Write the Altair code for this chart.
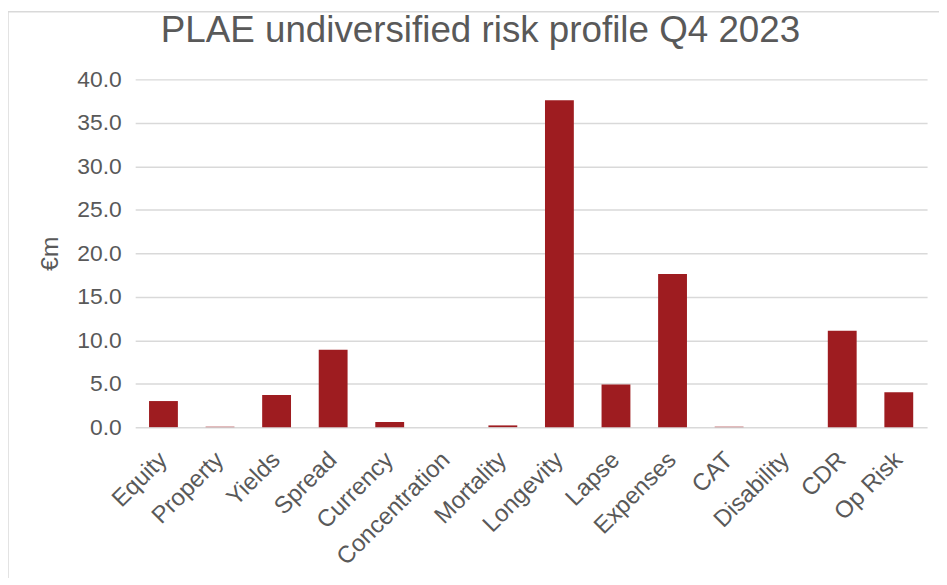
import altair as alt
import pandas as pd

categories = ["Equity", "Property", "Yields", "Spread", "Currency", "Concentration",
              "Mortality", "Longevity", "Lapse", "Expenses", "CAT", "Disability", "CDR", "Op Risk"]
values = [3.0, 0.05, 3.7, 8.9, 0.6, 0.0, 0.2, 37.6, 4.9, 17.6, 0.05, 0.0, 11.1, 4.0]
y_ticks = [0, 5, 10, 15, 20, 25, 30, 35, 40]

df = pd.DataFrame({"category": categories, "value": values})

FONT = "Liberation Sans"
TXT = "#595959"
GRID = "#D9D9D9"
BAR = "#9E1C20"

bars = alt.Chart(df).mark_bar(color=BAR).encode(
    x=alt.X("category:N", sort=categories, title=None,
            scale=alt.Scale(paddingInner=0.49, paddingOuter=0.245),
            axis=alt.Axis(labelAngle=-45, labelAlign="right", labelBaseline="middle",
                          labelPadding=29, labelFontSize=24, labelFont=FONT,
                          labelColor=TXT, ticks=False, domain=False, grid=False)),
    y=alt.Y("value:Q", title="€m",
            scale=alt.Scale(domain=[0, 40], nice=False),
            axis=alt.Axis(values=y_ticks, format=".1f", labelFontSize=23, labelFont=FONT,
                          labelColor=TXT, labelPadding=14, ticks=False, domain=False,
                          gridColor=GRID, gridWidth=1.5,
                          titleFont=FONT, titleFontSize=25, titleFontWeight="normal",
                          titleColor=TXT, titleX=-86, titleBaseline="middle")),
)

border_df = pd.DataFrame({"k": [0]})
top_border = alt.Chart(border_df).mark_rule(color=GRID, strokeWidth=1.5).encode(
    x=alt.value(-128), x2=alt.value(815), y=alt.value(-68))
left_border = alt.Chart(border_df).mark_rule(color=GRID, strokeWidth=1.5).encode(
    x=alt.value(-128), y=alt.value(-68), y2=alt.value(510))

chart = alt.layer(bars, top_border, left_border).properties(
    width=797, height=350,
    title=alt.TitleParams("PLAE undiversified risk profile Q4 2023", font=FONT,
                          fontSize=37, fontWeight="normal", color=TXT,
                          anchor="middle", dx=-51, offset=-39),
    autosize=alt.AutoSizeParams(type="none"),
    padding={"left": 128, "top": 70, "right": 12, "bottom": 150},
).configure(background="white", view=alt.ViewConfig(strokeWidth=0, stroke="transparent"))

chart.save("out.html", embed_options={"renderer": "svg", "actions": False})
